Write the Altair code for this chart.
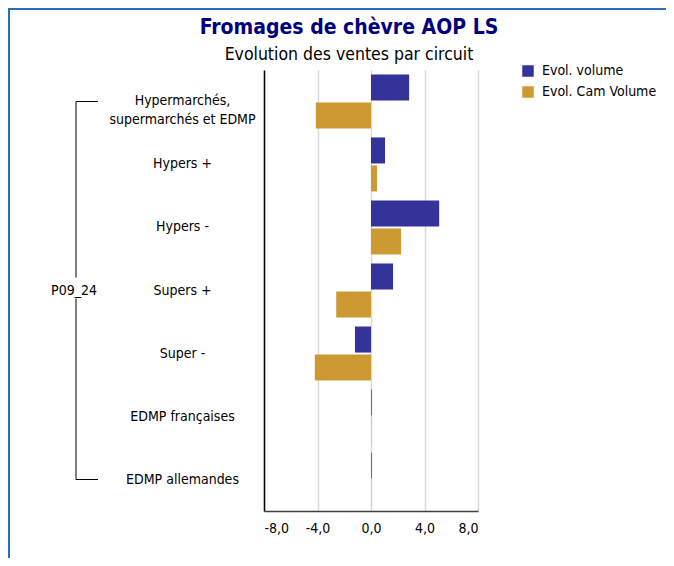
import altair as alt
import pandas as pd

categories = ["Hypermarchés, supermarchés et EDMP", "Hypers +", "Hypers -", "Supers +",
              "Super -", "EDMP françaises", "EDMP allemandes"]
series = ["Evol. volume", "Evol. Cam Volume"]
evol_volume = [2.85, 1.05, 5.1, 1.65, -1.2, 0.05, 0.05]
evol_cam_volume = [-4.13, 0.45, 2.25, -2.6, -4.2, 0.02, 0.02]
x_ticks = [-8, -4, 0, 4, 8]
period = "P09_24"
colors = ["#333399", "#CC9933"]

FONT = "Tahoma, 'DejaVu Sans Condensed', 'DejaVu Sans', sans-serif"

rows = []
for c, v, w in zip(categories, evol_volume, evol_cam_volume):
    rows.append({"circuit": c, "serie": series[0], "valeur": v})
    rows.append({"circuit": c, "serie": series[1], "valeur": w})
df = pd.DataFrame(rows)

n = len(categories)
bracket_df = pd.DataFrame({"start": [0.5], "end": [n - 0.5], "mid": [n / 2], "label": [period]})
ends_df = pd.DataFrame({"pos": [0.5, n - 0.5]})

bars = alt.Chart(df).mark_bar().encode(
    y=alt.Y("circuit:N", sort=categories,
            scale=alt.Scale(paddingInner=0.143, paddingOuter=0.07),
            axis=alt.Axis(title=None, ticks=False, labelAlign="center", labelPadding=82,
                          labelFontSize=14, labelColor="black", labelFont=FONT,
                          labelExpr="split(replace(datum.label, ', ', ',|'), '|')",
                          labelLineHeight=19, domainColor="black", domainWidth=1.5,
                          grid=False)),
    x=alt.X("valeur:Q", scale=alt.Scale(domain=[-8, 8], nice=False),
            axis=alt.Axis(values=x_ticks, title=None, ticks=False,
                          labelExpr="replace(replace(format(datum.value, '.1f'), '.', ','), '\u2212', '-')",
                          grid=True, gridColor="#d9d9d9", gridWidth=1.5,
                          domainColor="#404040", domainWidth=1.5,
                          labelFontSize=14, labelPadding=10, labelColor="black",
                          labelFont=FONT)),
    yOffset=alt.YOffset("serie:N", sort=series,
                        scale=alt.Scale(paddingInner=0.07, paddingOuter=0)),
    color=alt.Color("serie:N", sort=series,
                    scale=alt.Scale(domain=series, range=colors),
                    legend=alt.Legend(title=None, orient="none", legendX=257, legendY=-6,
                                      symbolType="square", symbolSize=132,
                                      symbolStrokeWidth=0, labelFontSize=14,
                                      labelFont=FONT, labelColor="black",
                                      rowPadding=7, labelOffset=7)),
)

yq = alt.Scale(domain=[0, n], reverse=True, nice=False, zero=False)

top_line = alt.Chart(bracket_df).mark_rule(color="black", strokeWidth=1, y2Offset=-13).encode(
    y=alt.Y("start:Q", scale=yq, axis=None), y2="mid:Q", x=alt.value(-188))
bottom_line = alt.Chart(bracket_df).mark_rule(color="black", strokeWidth=1, yOffset=8).encode(
    y=alt.Y("mid:Q", scale=yq, axis=None), y2="end:Q", x=alt.value(-188))
ticks_h = alt.Chart(ends_df).mark_rule(color="black", strokeWidth=1).encode(
    y=alt.Y("pos:Q", scale=yq, axis=None), x=alt.value(-188), x2=alt.value(-166))
label = alt.Chart(bracket_df).mark_text(font=FONT, fontSize=14, color="black",
                                         align="center", baseline="middle").encode(
    y=alt.Y("mid:Q", scale=yq, axis=None), x=alt.value(-190), text="label:N")

frame_left = alt.Chart(bracket_df).mark_rule(color="#2a6ebb", strokeWidth=2).encode(
    x=alt.value(-255), y=alt.value(-62), y2=alt.value(488))
frame_top = alt.Chart(bracket_df).mark_rule(color="#2a6ebb", strokeWidth=2).encode(
    x=alt.value(-256), x2=alt.value(402), y=alt.value(-61))

chart = alt.layer(bars, top_line, bottom_line, ticks_h, label, frame_left, frame_top).resolve_scale(
    y="independent"
).properties(
    width=214, height=441,
    autosize=alt.AutoSizeParams(type="none"),
    padding={"left": 256, "top": 62, "right": 188, "bottom": 47},
    title=alt.TitleParams("Fromages de chèvre AOP LS",
                          subtitle="Evolution des ventes par circuit",
                          font=FONT, fontSize=21, fontWeight="bold", color="#000080",
                          subtitleFont=FONT, subtitleFontSize=17.5, subtitleColor="black",
                          anchor="middle", frame="group", dx=-22, dy=64, offset=8,
                          subtitlePadding=8),
).configure_view(stroke=None)

chart.save("out.html", embed_options={"renderer": "svg", "actions": False})
